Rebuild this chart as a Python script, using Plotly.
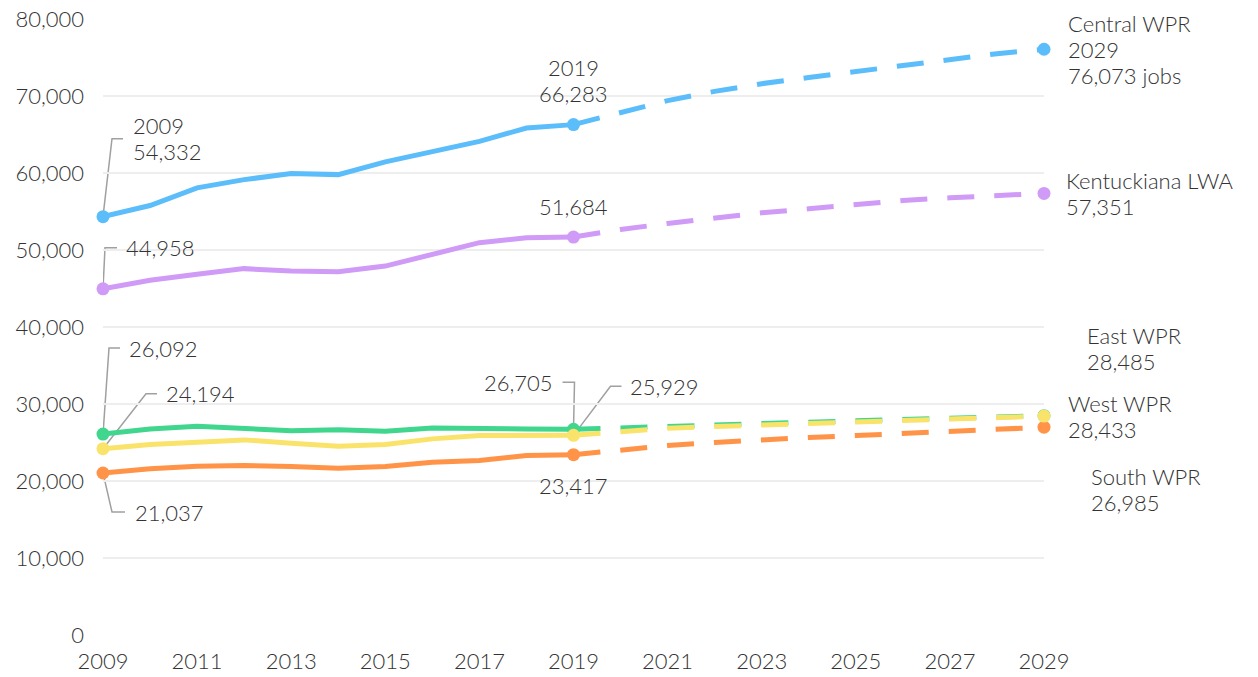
import plotly.graph_objects as go

years_actual = list(range(2009, 2020))
years_proj = list(range(2019, 2030))
tick_years = list(range(2009, 2030, 2))
y_ticks = [0, 10000, 20000, 30000, 40000, 50000, 60000, 70000, 80000]

central_actual = [54332, 55780, 58070, 59140, 59920, 59790, 61440, 62810, 64110, 65840, 66283]
central_proj = [66283, 67900, 69400, 70600, 71600, 72400, 73200, 74000, 74800, 75500, 76073]
kentuckiana_actual = [44958, 46060, 46840, 47580, 47270, 47190, 47910, 49430, 50950, 51590, 51684]
kentuckiana_proj = [51684, 52670, 53450, 54180, 54830, 55350, 55910, 56430, 56780, 57110, 57351]
east_actual = [26092, 26760, 27110, 26890, 26540, 26670, 26460, 26890, 26890, 26760, 26705]
east_proj = [26705, 26920, 27110, 27290, 27460, 27640, 27820, 28000, 28170, 28330, 28485]
west_actual = [24194, 24730, 25040, 25340, 24910, 24520, 24730, 25470, 25900, 25990, 25929]
west_proj = [25929, 26450, 26850, 27080, 27280, 27500, 27710, 27890, 28060, 28250, 28433]
south_actual = [21037, 21580, 21930, 22010, 21880, 21670, 21880, 22450, 22660, 23300, 23417]
south_proj = [23417, 24050, 24600, 25000, 25380, 25650, 25900, 26150, 26410, 26700, 26985]

series_names = ["South WPR", "East WPR", "West WPR", "Kentuckiana LWA", "Central WPR"]
series_actual = [south_actual, east_actual, west_actual, kentuckiana_actual, central_actual]
series_proj = [south_proj, east_proj, west_proj, kentuckiana_proj, central_proj]
colors = ["#FF9448", "#40D68E", "#FAE36B", "#D09AF7", "#5CBDFB"]

FONT = "Lato"
TXT = "#333333"
LINE_GAP = 26

fig = go.Figure()
for name, act, proj, col in zip(series_names, series_actual, series_proj, colors):
    fig.add_trace(go.Scatter(x=years_actual, y=act, mode="lines", name=name,
                             line=dict(color=col, width=5), showlegend=False, cliponaxis=False))
    fig.add_trace(go.Scatter(x=years_proj, y=proj, mode="lines", name=name + " projection",
                             line=dict(color=col, width=5, dash="27px,20px"), showlegend=False,
                             cliponaxis=False))
for name, act, proj, col in zip(series_names, series_actual, series_proj, colors):
    fig.add_trace(go.Scatter(x=[years_actual[0], years_actual[-1], years_proj[-1]],
                             y=[act[0], act[-1], proj[-1]], mode="markers",
                             marker=dict(color=col, size=13), showlegend=False, cliponaxis=False))

def fmt(v):
    return f"{v:,}"

# label definitions: (x, y, lines, dx, dy, xanchor, leader path or None)
labels = [
    (2009, central_actual[0], ["2009", fmt(central_actual[0])], 28, 78, "left", "M0,0 L9,78 L20,78"),
    (2009, kentuckiana_actual[0], [fmt(kentuckiana_actual[0])], 21, 41, "left", "M0,0 L2,41 L14,41"),
    (2009, east_actual[0], [fmt(east_actual[0])], 24, 86, "left", "M0,0 L6,86 L17,86"),
    (2009, west_actual[0], [fmt(west_actual[0])], 61, 55, "left", "M0,0 L43,55 L54,55"),
    (2009, south_actual[0], [fmt(south_actual[0])], 30, -39, "left", "M0,0 L9,-39 L22,-39"),
    (2019, central_actual[-1], ["2019", fmt(central_actual[-1])], 0, 44, "center", None),
    (2019, kentuckiana_actual[-1], [fmt(kentuckiana_actual[-1])], 0, 31, "center", None),
    (2019, east_actual[-1], [fmt(east_actual[-1])], -19, 47, "right", "M0,0 L1,47 L-11,47"),
    (2019, west_actual[-1], [fmt(west_actual[-1])], 54, 49, "left", "M0,0 L37,49 L48,49"),
    (2019, south_actual[-1], [fmt(south_actual[-1])], 0, -31, "center", None),
    (2029, central_proj[-1], ["Central WPR", "2029", fmt(central_proj[-1]) + " jobs"], 22, 0, "left", None),
    (2029, kentuckiana_proj[-1], ["Kentuckiana LWA", fmt(kentuckiana_proj[-1])], 20, 0, "left", None),
    (2029, east_proj[-1], ["East WPR", fmt(east_proj[-1])], 41, 67, "left", "M0,0 L21,68 L33,68"),
    (2029, west_proj[-1], ["West WPR", fmt(west_proj[-1])], 22, 0, "left", None),
    (2029, south_proj[-1], ["South WPR", fmt(south_proj[-1])], 45, -62, "left", "M0,0 L26,-62 L38,-62"),
]

annotations = []
shapes = []
for x, y, lines, dx, dy, xa, path in labels:
    n = len(lines)
    for i, line in enumerate(lines):
        annotations.append(dict(x=x, y=y, xref="x", yref="y", text=line, showarrow=False,
                                xanchor=xa, yanchor="middle",
                                xshift=dx, yshift=dy + (n - 1) / 2 * LINE_GAP - i * LINE_GAP,
                                font=dict(family=FONT, size=22, color=TXT, weight=300)))
    if path:
        shapes.append(dict(type="path", xref="x", yref="y", xsizemode="pixel", ysizemode="pixel",
                           xanchor=x, yanchor=y, path=path,
                           line=dict(color="#a0a0a0", width=1.5), layer="below"))

fig.update_layout(
    width=1258, height=677,
    margin=dict(l=103, r=214, t=19, b=42, autoexpand=False),
    plot_bgcolor="white", paper_bgcolor="white",
    font=dict(family=FONT, size=22, color=TXT, weight=300),
    annotations=annotations, shapes=shapes,
    xaxis=dict(range=[2009, 2029], tickvals=tick_years, ticktext=[str(t) for t in tick_years],
               showgrid=False, zeroline=False, showline=False, ticks="", automargin=False,
               ticklabelstandoff=11, tickfont=dict(size=22, color=TXT)),
    yaxis=dict(range=[0, 80000], tickvals=y_ticks, ticktext=[fmt(t) for t in y_ticks],
               showgrid=True, gridcolor="#eeeeee", gridwidth=2, zeroline=False, showline=False,
               ticks="", automargin=False, ticklabelstandoff=18, tickfont=dict(size=22, color=TXT)),
)

fig.write_html("out.html", config={"displayModeBar": False},
               post_script="document.body.style.margin='0';document.body.style.overflow='hidden';")
